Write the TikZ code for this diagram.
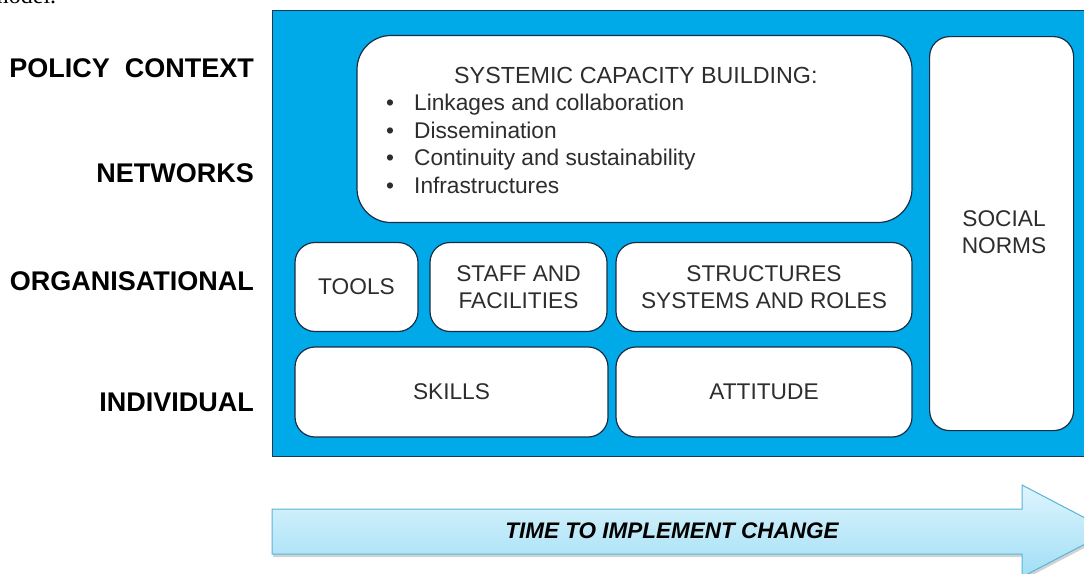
\documentclass[tikz,border=0pt]{standalone}
\usepackage{fontspec}
\setmainfont{Liberation Sans}
\newfontfamily\seriffont{Liberation Serif}
\usetikzlibrary{shadows}
\definecolor{bgblue}{RGB}{0,170,232}
\definecolor{navy}{RGB}{30,55,85}
\definecolor{tgray}{RGB}{45,45,45}
\definecolor{arrowtop}{RGB}{222,245,253}
\definecolor{arrowbot}{RGB}{160,222,245}
\definecolor{arrowline}{RGB}{90,180,215}
\tikzset{
  wbox/.style={draw=navy!80!black, fill=white, line width=1.2pt, rounded corners=20pt,
    align=center, text=tgray, inner sep=0pt, font=\fontsize{22.7}{27.5}\selectfont},
  lvl/.style={anchor=east, font=\bfseries\fontsize{27}{30}\selectfont, text=black, inner sep=0pt},
  bline/.style={anchor=base west, inner sep=0, text=tgray, font=\fontsize{22.7}{27.5}\selectfont},
}
\begin{document}
\begin{tikzpicture}[x=1pt,y=-1pt]
\useasboundingbox (0,0) rectangle (1084,573);
\clip (0,0) rectangle (1084,573);
\fill[white] (0,0) rectangle (1084,573);
% cut-off text at top
\node[anchor=base west, inner sep=0, font=\seriffont\fontsize{24}{26}\selectfont] (cut) at (-10,3) {model.};
% left labels
\node[lvl] (lpol) at (254,68) {POLICY\ \ CONTEXT};
\node[lvl] (lnet) at (254,173) {NETWORKS};
\node[lvl] (lorg) at (254,281) {ORGANISATIONAL};
\node[lvl] (lind) at (254,402) {INDIVIDUAL};
% blue background
\node[draw=navy, line width=1.2pt, fill=bgblue, minimum width=812pt, minimum height=446pt, inner sep=0, anchor=north west] (bg) at (272,10) {};
% boxes
\node[wbox, rounded corners=34pt, minimum width=555pt, minimum height=187pt] (sys) at (634.5,129) {};
\node[bline, font=\fontsize{23.3}{27.5}\selectfont] (systitle) at (454,83) {SYSTEMIC CAPACITY BUILDING:};
\node[bline] (b1) at (386,110.5) {\makebox[28pt][l]{•}Linkages and collaboration};
\node[bline] (b2) at (386,138) {\makebox[28pt][l]{•}Dissemination};
\node[bline] (b3) at (386,165.5) {\makebox[28pt][l]{•}Continuity and sustainability};
\node[bline] (b4) at (386,193) {\makebox[28pt][l]{•}Infrastructures};
\node[wbox, minimum width=144pt, minimum height=394pt, anchor=north west] (soc) at (929,36) {};
\node[inner sep=0, text=tgray, align=center, font=\fontsize{22.7}{27.5}\selectfont] (soctext) at (1004,232) {SOCIAL\\NORMS};
\node[wbox, minimum width=123pt, minimum height=89pt] (tools) at (356.5,287) {TOOLS};
\node[wbox, minimum width=177pt, minimum height=89pt] (staff) at (518.5,287) {STAFF AND\\FACILITIES};
\node[wbox, minimum width=296pt, minimum height=89pt] (struct) at (764,287) {STRUCTURES\\SYSTEMS AND ROLES};
\node[wbox, minimum width=313pt, minimum height=90pt] (skills) at (451.5,392) {SKILLS};
\node[wbox, minimum width=296pt, minimum height=90pt] (att) at (764,392) {ATTITUDE};
% arrow
\path[draw=arrowline, line width=1pt, top color=arrowtop, bottom color=arrowbot,
      drop shadow={shadow xshift=1pt, shadow yshift=-3pt, opacity=0.35}]
  (272,509) -- (1022,509) -- (1022,485) -- (1110,531) -- (1022,577) -- (1022,554) -- (272,554) -- cycle;
\node[inner sep=0, font=\bfseries\itshape\fontsize{22.5}{26}\selectfont, text=black] (time) at (672,531) {TIME TO IMPLEMENT CHANGE};
\end{tikzpicture}
\end{document}
